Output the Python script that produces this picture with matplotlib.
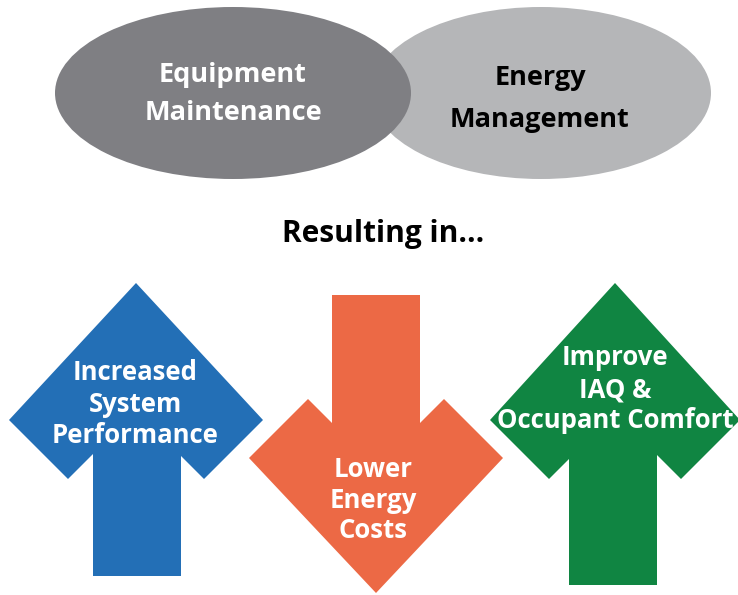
import matplotlib.pyplot as plt
from matplotlib.patches import Ellipse, Polygon

# ---- content ----
ellipse_labels = ["Equipment\nMaintenance", "Energy\nManagement"]
ellipse_colors = ["#7f7f83", "#b5b6b8"]
ellipse_text_colors = ["white", "black"]
ellipse_centers = [(233, 93), (541, 93)]
ellipse_sizes = [(356, 172), (340, 172)]

heading = "Resulting in..."

arrow_labels = ["Increased\nSystem\nPerformance",
                "Lower\nEnergy\nCosts",
                "Improve\nIAQ &\nOccupant Comfort"]
arrow_colors = ["#236fb6", "#ec6945", "#108542"]
arrow_dirs = ["up", "down", "up"]

# geometry of each arrow (pixel units, y grows downward)
# tip x, tip y, half head width, head depth, shaft left, shaft right, shaft end y
arrow_geom = [
    (136, 283, 127, 137, 93, 181, 576),
    (376, 593, 127, 135, 332, 420, 295),
    (615, 283, 125, 137, 569, 657, 585),
]
wing_notch = 59  # depth of the wing's back edge below the outer points

arrow_text_x = [135, 373, 615]
arrow_text_baselines = [[380, 412, 443], [477, 508, 538], [365, 397, 428]]


def arrow_poly(tx, ty, hw, hd, sl, sr, end, direction):
    s = 1 if direction == "up" else -1
    base = ty + s * hd                # y of the outer wing points
    notch = base + s * wing_notch     # y of the wing's inner corners
    left_in = (tx - hw + wing_notch, notch)
    right_in = (tx + hw - wing_notch, notch)
    # back edge of each wing runs at 45 degrees up to the shaft
    meet_l = notch - s * (sl - left_in[0])
    meet_r = notch - s * (right_in[0] - sr)
    return [(tx, ty), (tx + hw, base), right_in, (sr, meet_r), (sr, end),
            (sl, end), (sl, meet_l), left_in, (tx - hw, base)]


fig = plt.figure(figsize=(7.38, 5.95), dpi=100)
ax = fig.add_axes([0, 0, 1, 1])
ax.set_xlim(0, 738)
ax.set_ylim(595, 0)
ax.axis("off")

font = "Open Sans"

# right ellipse first so the left one sits on top
for i in [1, 0]:
    ax.add_patch(Ellipse(ellipse_centers[i], *ellipse_sizes[i],
                         facecolor=ellipse_colors[i], edgecolor="none"))

ellipse_text_pos = [(233, [82, 120]), (540, [85, 127])]
for lab, (x, bases), tc in zip(ellipse_labels, ellipse_text_pos, ellipse_text_colors):
    for line, b in zip(lab.split("\n"), bases):
        ax.text(x, b, line, ha="center", va="baseline", fontsize=19.5,
                fontweight="bold", family=font, color=tc)

ax.text(383, 242, heading, ha="center", va="baseline", fontsize=21.5,
        fontweight="bold", family=font, color="black")

for g, col, d in zip(arrow_geom, arrow_colors, arrow_dirs):
    ax.add_patch(Polygon(arrow_poly(*g, d), closed=True, facecolor=col,
                         edgecolor="none"))

for lab, x, bases in zip(arrow_labels, arrow_text_x, arrow_text_baselines):
    for line, b in zip(lab.split("\n"), bases):
        ax.text(x, b, line, ha="center", va="baseline", fontsize=18.5,
                fontweight="bold", family=font, color="white")

fig.savefig("out.png", dpi=100)
